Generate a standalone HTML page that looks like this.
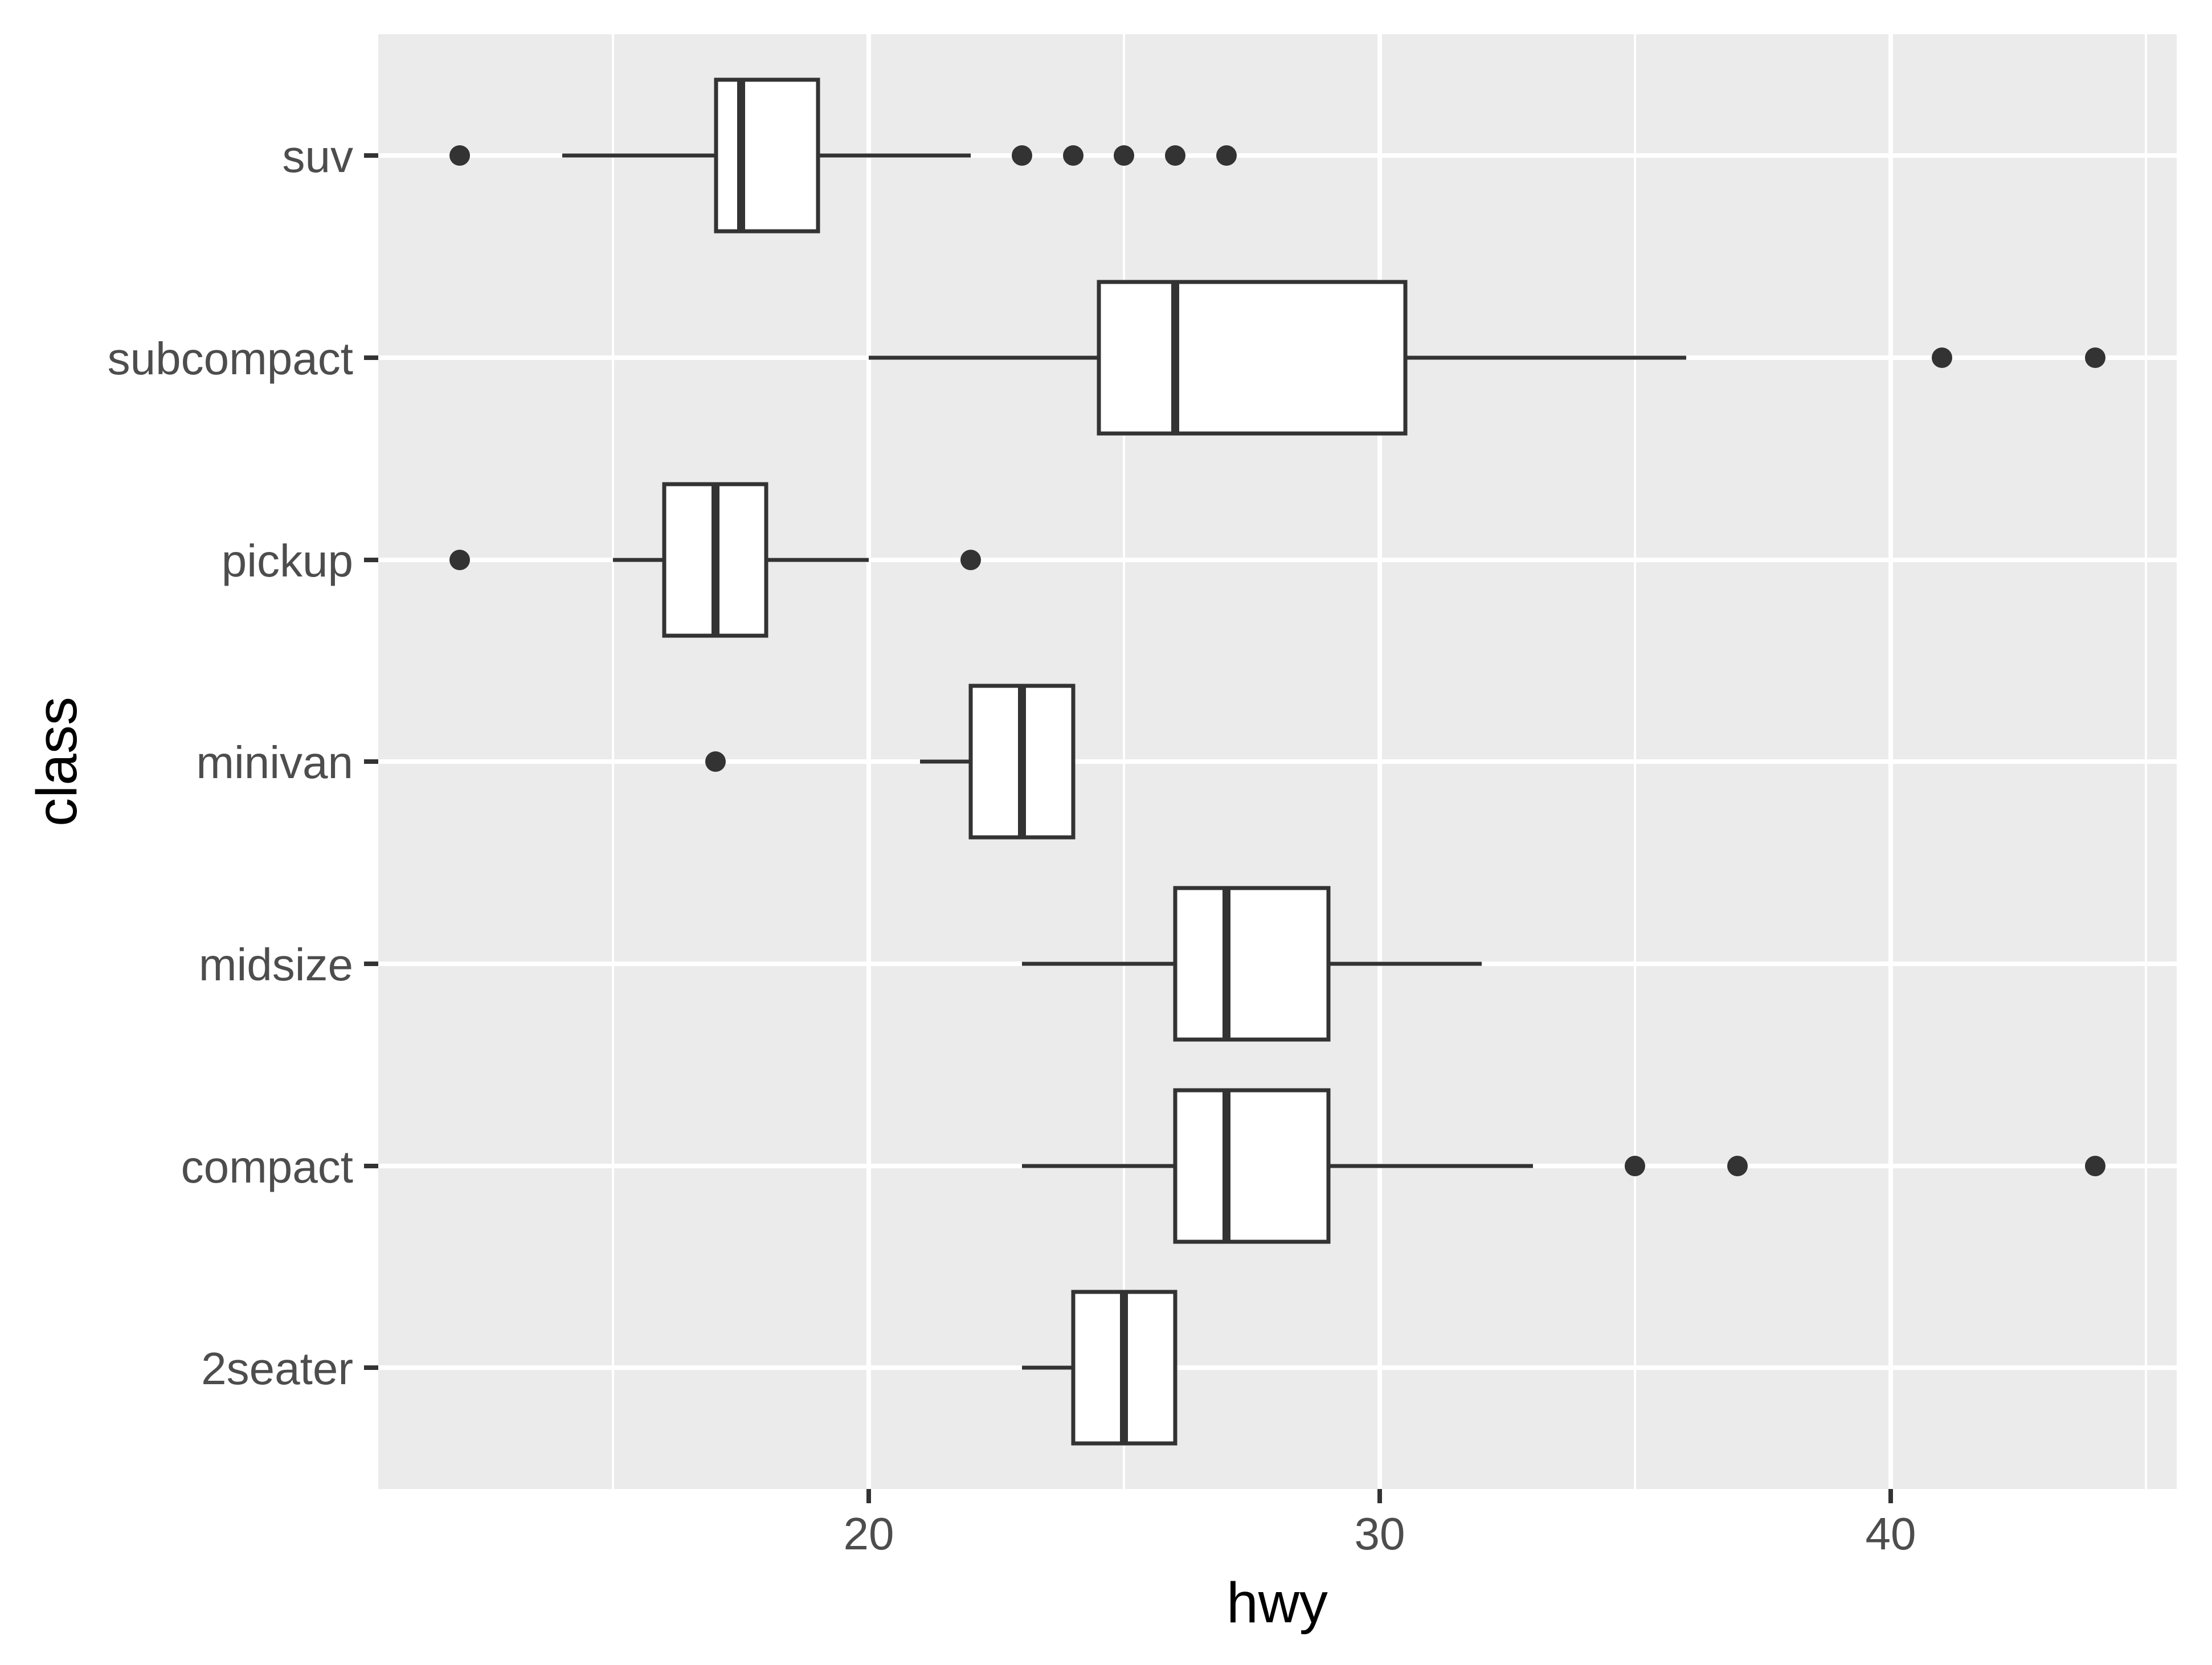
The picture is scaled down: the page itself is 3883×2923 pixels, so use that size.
<!DOCTYPE html>
<html><head><meta charset="utf-8"><style>html,body{margin:0;padding:0;background:#fff}svg{display:block}</style></head>
<body>
<svg xmlns="http://www.w3.org/2000/svg" width="3883" height="2923" viewBox="0 0 3883 2923">
<rect width="3883" height="2923" fill="#fff"/>
<rect x="664" y="60" width="3157" height="2554" fill="#ebebeb"/>
<g stroke="#fff" stroke-width="4">
<line x1="1076" y1="60" x2="1076" y2="2614"/>
<line x1="1973" y1="60" x2="1973" y2="2614"/>
<line x1="2870" y1="60" x2="2870" y2="2614"/>
<line x1="3767" y1="60" x2="3767" y2="2614"/>
</g>
<g stroke="#fff" stroke-width="8">
<line x1="1525" y1="60" x2="1525" y2="2614"/>
<line x1="2422" y1="60" x2="2422" y2="2614"/>
<line x1="3319" y1="60" x2="3319" y2="2614"/>
<line x1="664" y1="273" x2="3821" y2="273"/>
<line x1="664" y1="628" x2="3821" y2="628"/>
<line x1="664" y1="983" x2="3821" y2="983"/>
<line x1="664" y1="1337" x2="3821" y2="1337"/>
<line x1="664" y1="1692" x2="3821" y2="1692"/>
<line x1="664" y1="2047" x2="3821" y2="2047"/>
<line x1="664" y1="2401" x2="3821" y2="2401"/>
</g>
<g stroke="#333" stroke-width="7" fill="#fff">
<line x1="987" y1="273" x2="1704" y2="273"/>
<rect x="1257" y="140" width="179" height="266"/>
<line x1="1301" y1="140" x2="1301" y2="406" stroke-width="14"/>
<line x1="1525" y1="628" x2="2960" y2="628"/>
<rect x="1929" y="495" width="538" height="266"/>
<line x1="2063" y1="495" x2="2063" y2="761" stroke-width="14"/>
<line x1="1076" y1="983" x2="1525" y2="983"/>
<rect x="1166" y="850" width="179" height="266"/>
<line x1="1256" y1="850" x2="1256" y2="1116" stroke-width="14"/>
<line x1="1615" y1="1337" x2="1794" y2="1337"/>
<rect x="1704" y="1204" width="180" height="266"/>
<line x1="1794" y1="1204" x2="1794" y2="1470" stroke-width="14"/>
<line x1="1794" y1="1692" x2="2601" y2="1692"/>
<rect x="2063" y="1559" width="269" height="266"/>
<line x1="2153" y1="1559" x2="2153" y2="1825" stroke-width="14"/>
<line x1="1794" y1="2047" x2="2691" y2="2047"/>
<rect x="2063" y="1914" width="269" height="266"/>
<line x1="2153" y1="1914" x2="2153" y2="2180" stroke-width="14"/>
<line x1="1794" y1="2401" x2="1884" y2="2401"/>
<rect x="1884" y="2268" width="179" height="266"/>
<line x1="1973" y1="2268" x2="1973" y2="2534" stroke-width="14"/>
</g>
<g fill="#333">
<circle cx="807" cy="273" r="18"/>
<circle cx="1794" cy="273" r="18"/>
<circle cx="1884" cy="273" r="18"/>
<circle cx="1973" cy="273" r="18"/>
<circle cx="2063" cy="273" r="18"/>
<circle cx="2153" cy="273" r="18"/>
<circle cx="3409" cy="628" r="18"/>
<circle cx="3678" cy="628" r="18"/>
<circle cx="807" cy="983" r="18"/>
<circle cx="1704" cy="983" r="18"/>
<circle cx="1256" cy="1337" r="18"/>
<circle cx="2870" cy="2047" r="18"/>
<circle cx="3050" cy="2047" r="18"/>
<circle cx="3678" cy="2047" r="18"/>
</g>
<g stroke="#333" stroke-width="8">
<line x1="1525" y1="2614" x2="1525" y2="2639"/>
<line x1="2422" y1="2614" x2="2422" y2="2639"/>
<line x1="3319" y1="2614" x2="3319" y2="2639"/>
<line x1="639" y1="273" x2="664" y2="273"/>
<line x1="639" y1="628" x2="664" y2="628"/>
<line x1="639" y1="983" x2="664" y2="983"/>
<line x1="639" y1="1337" x2="664" y2="1337"/>
<line x1="639" y1="1692" x2="664" y2="1692"/>
<line x1="639" y1="2047" x2="664" y2="2047"/>
<line x1="639" y1="2401" x2="664" y2="2401"/>
</g>
<g font-family="Liberation Sans, Arial, sans-serif" font-size="80" fill="#4d4d4d">
<g text-anchor="middle">
<text x="1525" y="2720">20</text>
<text x="2422" y="2720">30</text>
<text x="3319" y="2720">40</text>
</g>
<g text-anchor="end">
<text x="620" y="302">suv</text>
<text x="620" y="657">subcompact</text>
<text x="620" y="1012">pickup</text>
<text x="620" y="1366">minivan</text>
<text x="620" y="1721">midsize</text>
<text x="620" y="2076">compact</text>
<text x="620" y="2430">2seater</text>
</g>
</g>
<g font-family="Liberation Sans, Arial, sans-serif" font-size="100" fill="#000" text-anchor="middle">
<text x="2242" y="2848">hwy</text>
<text transform="translate(134,1337) rotate(-90)" x="0" y="0">class</text>
</g>
</svg>
</body></html>
